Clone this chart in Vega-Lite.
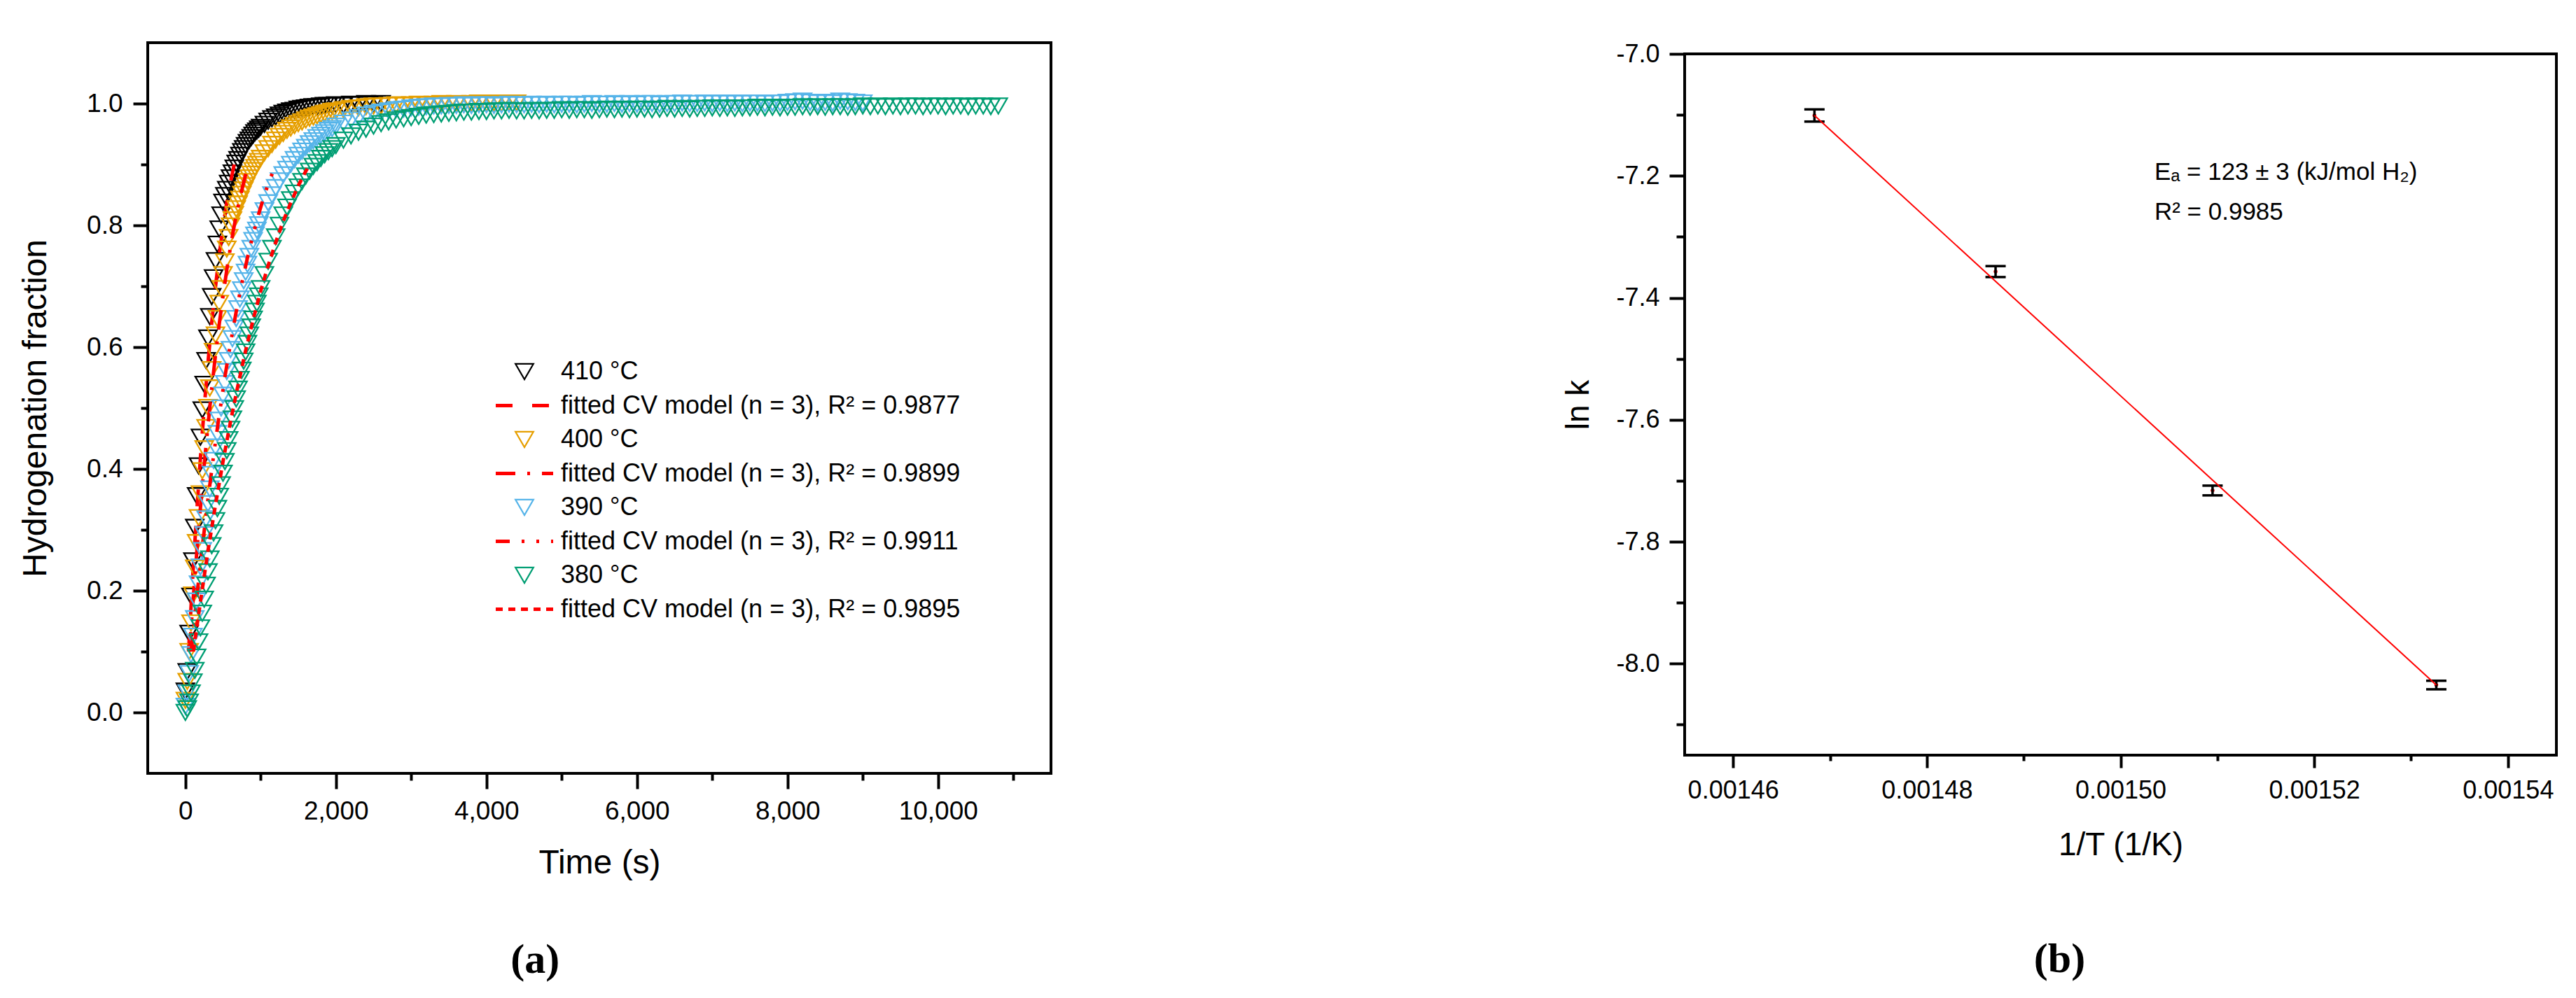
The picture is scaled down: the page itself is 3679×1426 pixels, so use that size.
{
  "$schema": "https://vega.github.io/schema/vega-lite/v6.json",
  "background": "white",
  "padding": {"left": 25, "top": 57, "right": 0, "bottom": 0},
  "spacing": 726,
  "datasets": {
    "meas": [
      {"t":0,"p410":0.035,"p400":0.02,"p390":0.01,"p380":0},
      {"t":25,"p410":0.067,"p400":0.051,"p390":0.032,"p380":0.006},
      {"t":50,"p410":0.13,"p400":0.1,"p390":0.064,"p380":0.017},
      {"t":75,"p410":0.191,"p400":0.147,"p390":0.095,"p380":0.032},
      {"t":100,"p410":0.249,"p400":0.193,"p390":0.125,"p380":0.05},
      {"t":125,"p410":0.304,"p400":0.237,"p390":0.154,"p380":0.069},
      {"t":150,"p410":0.356,"p400":0.279,"p390":0.183,"p380":0.091},
      {"t":175,"p410":0.405,"p400":0.32,"p390":0.211,"p380":0.116},
      {"t":200,"p410":0.452,"p400":0.359,"p390":0.239,"p380":0.139},
      {"t":225,"p410":0.497,"p400":0.397,"p390":0.266,"p380":0.163},
      {"t":250,"p410":0.539,"p400":0.433,"p390":0.292,"p380":0.186},
      {"t":275,"p410":0.578,"p400":0.468,"p390":0.318,"p380":0.209},
      {"t":300,"p410":0.615,"p400":0.501,"p390":0.343,"p380":0.231},
      {"t":325,"p410":0.65,"p400":0.533,"p390":0.367,"p380":0.252},
      {"t":350,"p410":0.683,"p400":0.563,"p390":0.391,"p380":0.274},
      {"t":375,"p410":0.714,"p400":0.593,"p390":0.414,"p380":0.295},
      {"t":400,"p410":0.742,"p400":0.62,"p390":0.436,"p380":0.315},
      {"t":425,"p410":0.769,"p400":0.647,"p390":0.458,"p380":0.335},
      {"t":450,"p410":0.794,"p400":0.672,"p390":0.48,"p380":0.355},
      {"t":475,"p410":0.817,"p400":0.696,"p390":0.5,"p380":0.374},
      {"t":500,"p410":0.838,"p400":0.719,"p390":0.521,"p380":0.393},
      {"t":525,"p410":0.849,"p400":0.74,"p390":0.54,"p380":0.412},
      {"t":550,"p410":0.859,"p400":0.761,"p390":0.56,"p380":0.43},
      {"t":575,"p410":0.869,"p400":0.78,"p390":0.578,"p380":0.448},
      {"t":600,"p410":0.878,"p400":0.799,"p390":0.596,"p380":0.465},
      {"t":625,"p410":0.886,"p400":0.809,"p390":0.614,"p380":0.482},
      {"t":650,"p410":0.894,"p400":0.818,"p390":0.631,"p380":0.499},
      {"t":675,"p410":0.902,"p400":0.827,"p390":0.647,"p380":0.515},
      {"t":700,"p410":0.908,"p400":0.835,"p390":0.663,"p380":0.531},
      {"t":725,"p410":0.915,"p400":0.843,"p390":0.679,"p380":0.547},
      {"t":750,"p410":0.921,"p400":0.851,"p390":0.694,"p380":0.562},
      {"t":775,"p410":0.926,"p400":0.858,"p390":0.709,"p380":0.577},
      {"t":800,"p410":0.931,"p400":0.865,"p390":0.723,"p380":0.592},
      {"t":825,"p410":0.936,"p400":0.872,"p390":0.736,"p380":0.606},
      {"t":850,"p410":0.94,"p400":0.878,"p390":0.749,"p380":0.62},
      {"t":875,"p410":0.944,"p400":0.884,"p390":0.762,"p380":0.633},
      {"t":900,"p410":0.948,"p400":0.89,"p390":0.775,"p380":0.646},
      {"t":925,"p410":0.952,"p400":0.895,"p390":0.784,"p380":0.659},
      {"t":950,"p410":0.955,"p400":0.9,"p390":0.792,"p380":0.672},
      {"t":975,"p410":0.958,"p400":0.905,"p390":0.801,"p380":0.684},
      {"t":1000,"p410":0.961,"p400":0.91,"p390":0.809,"p380":0.696},
      {"t":1050,"p410":0.966,"p400":0.919,"p390":0.824,"p380":0.719},
      {"t":1100,"p410":0.971,"p400":0.926,"p390":0.837,"p380":0.741},
      {"t":1150,"p410":0.975,"p400":0.933,"p390":0.85,"p380":0.762},
      {"t":1200,"p410":0.978,"p400":0.94,"p390":0.862,"p380":0.781},
      {"t":1250,"p410":0.981,"p400":0.946,"p390":0.873,"p380":0.8},
      {"t":1300,"p410":0.984,"p400":0.951,"p390":0.883,"p380":0.817},
      {"t":1350,"p410":0.986,"p400":0.956,"p390":0.892,"p380":0.83},
      {"t":1400,"p410":0.988,"p400":0.96,"p390":0.9,"p380":0.842},
      {"t":1450,"p410":0.989,"p400":0.964,"p390":0.908,"p380":0.853},
      {"t":1500,"p410":0.991,"p400":0.967,"p390":0.915,"p380":0.863},
      {"t":1550,"p410":0.992,"p400":0.97,"p390":0.922,"p380":0.872},
      {"t":1600,"p410":0.993,"p400":0.973,"p390":0.928,"p380":0.881},
      {"t":1650,"p410":0.994,"p400":0.976,"p390":0.934,"p380":0.889},
      {"t":1700,"p410":0.995,"p400":0.978,"p390":0.939,"p380":0.897},
      {"t":1750,"p410":0.995,"p400":0.98,"p390":0.944,"p380":0.903},
      {"t":1800,"p410":0.996,"p400":0.982,"p390":0.948,"p380":0.91},
      {"t":1850,"p410":0.997,"p400":0.984,"p390":0.952,"p380":0.916},
      {"t":1900,"p410":0.997,"p400":0.985,"p390":0.956,"p380":0.921},
      {"t":1950,"p410":0.997,"p400":0.987,"p390":0.959,"p380":0.926},
      {"t":2000,"p410":0.998,"p400":0.988,"p390":0.963,"p380":0.931},
      {"t":2100,"p410":0.997,"p400":0.99,"p390":0.968,"p380":0.94},
      {"t":2200,"p410":0.999,"p400":0.992,"p390":0.973,"p380":0.947},
      {"t":2300,"p410":0.998,"p400":0.993,"p390":0.977,"p380":0.953},
      {"t":2400,"p410":1,"p400":0.995,"p390":0.981,"p380":0.958},
      {"t":2500,"p410":0.999,"p400":0.996,"p390":0.984,"p380":0.963},
      {"t":2600,"p410":1,"p400":0.996,"p390":0.986,"p380":0.967},
      {"t":2700,"p400":0.997,"p390":0.988,"p380":0.97},
      {"t":2800,"p400":0.998,"p390":0.99,"p380":0.973},
      {"t":2900,"p400":0.997,"p390":0.991,"p380":0.975},
      {"t":3000,"p400":0.998,"p390":0.993,"p380":0.977},
      {"t":3100,"p400":0.999,"p390":0.994,"p380":0.979},
      {"t":3200,"p400":0.998,"p390":0.995,"p380":0.981},
      {"t":3300,"p400":0.999,"p390":0.996,"p380":0.982},
      {"t":3400,"p400":1,"p390":0.996,"p380":0.983},
      {"t":3500,"p400":0.999,"p390":0.997,"p380":0.984},
      {"t":3600,"p400":1,"p390":0.997,"p380":0.985},
      {"t":3700,"p400":0.999,"p390":0.998,"p380":0.986},
      {"t":3800,"p400":1,"p390":0.997,"p380":0.986},
      {"t":3900,"p400":1.001,"p390":0.998,"p380":0.987},
      {"t":4000,"p400":1,"p390":0.998,"p380":0.987},
      {"t":4100,"p400":1.001,"p390":0.997,"p380":0.988},
      {"t":4200,"p400":1,"p390":0.998,"p380":0.988},
      {"t":4300,"p400":1.001,"p390":0.999,"p380":0.989},
      {"t":4400,"p400":1.001,"p390":0.998,"p380":0.988},
      {"t":4500,"p390":0.998,"p380":0.988},
      {"t":4600,"p390":0.999,"p380":0.989},
      {"t":4700,"p390":0.998,"p380":0.988},
      {"t":4800,"p390":0.999,"p380":0.989},
      {"t":4900,"p390":0.998,"p380":0.989},
      {"t":5000,"p390":0.999,"p380":0.99},
      {"t":5100,"p390":0.999,"p380":0.989},
      {"t":5200,"p390":0.998,"p380":0.99},
      {"t":5300,"p390":0.999,"p380":0.99},
      {"t":5400,"p390":1,"p380":0.989},
      {"t":5500,"p390":0.999,"p380":0.99},
      {"t":5600,"p390":0.999,"p380":0.991},
      {"t":5700,"p390":1,"p380":0.99},
      {"t":5800,"p390":0.999,"p380":0.991},
      {"t":5900,"p390":1,"p380":0.99},
      {"t":6000,"p390":0.999,"p380":0.991},
      {"t":6100,"p390":1,"p380":0.991},
      {"t":6200,"p390":1,"p380":0.99},
      {"t":6300,"p390":0.999,"p380":0.991},
      {"t":6400,"p390":1,"p380":0.992},
      {"t":6500,"p390":1,"p380":0.991},
      {"t":6600,"p390":1.001,"p380":0.992},
      {"t":6700,"p390":1,"p380":0.991},
      {"t":6800,"p390":1,"p380":0.992},
      {"t":6900,"p390":1.001,"p380":0.992},
      {"t":7000,"p390":1,"p380":0.993},
      {"t":7100,"p390":1.001,"p380":0.992},
      {"t":7200,"p390":1,"p380":0.993},
      {"t":7300,"p390":1.001,"p380":0.992},
      {"t":7400,"p390":1,"p380":0.993},
      {"t":7500,"p390":1.001,"p380":0.993},
      {"t":7600,"p390":1.001,"p380":0.994},
      {"t":7700,"p390":1,"p380":0.993},
      {"t":7800,"p390":1.001,"p380":0.994},
      {"t":7900,"p390":1.001,"p380":0.993},
      {"t":8000,"p390":1.002,"p380":0.994},
      {"t":8100,"p390":1.003,"p380":0.994},
      {"t":8200,"p390":1.004,"p380":0.995},
      {"t":8300,"p390":1.002,"p380":0.994},
      {"t":8400,"p390":1.001,"p380":0.995},
      {"t":8500,"p390":1.002,"p380":0.994},
      {"t":8600,"p390":1.001,"p380":0.995},
      {"t":8700,"p390":1.004,"p380":0.995},
      {"t":8800,"p390":1.003,"p380":0.994},
      {"t":8900,"p390":1.002,"p380":0.995},
      {"t":9000,"p390":1.001,"p380":0.996},
      {"t":9100,"p380":0.995},
      {"t":9200,"p380":0.996},
      {"t":9300,"p380":0.995},
      {"t":9400,"p380":0.996},
      {"t":9500,"p380":0.995},
      {"t":9600,"p380":0.996},
      {"t":9700,"p380":0.996},
      {"t":9800,"p380":0.995},
      {"t":9900,"p380":0.996},
      {"t":10000,"p380":0.996},
      {"t":10100,"p380":0.995},
      {"t":10200,"p380":0.996},
      {"t":10300,"p380":0.996},
      {"t":10400,"p380":0.995},
      {"t":10500,"p380":0.996},
      {"t":10600,"p380":0.996},
      {"t":10700,"p380":0.995},
      {"t":10800,"p380":0.996}
    ],
    "fits": [
      {"s":"f410","t":42,"f":0.1},{"s":"f410","t":100,"f":0.228},{"s":"f410","t":150,"f":0.327},{"s":"f410","t":200,"f":0.418},{"s":"f410","t":250,"f":0.5},{"s":"f410","t":300,"f":0.574},{"s":"f410","t":350,"f":0.64},{"s":"f410","t":400,"f":0.699},{"s":"f410","t":450,"f":0.752},{"s":"f410","t":500,"f":0.797},{"s":"f410","t":550,"f":0.837},{"s":"f410","t":600,"f":0.871},{"s":"f410","t":649,"f":0.9},
      {"s":"f400","t":54,"f":0.1},{"s":"f400","t":100,"f":0.18},{"s":"f400","t":150,"f":0.261},{"s":"f400","t":200,"f":0.336},{"s":"f400","t":250,"f":0.406},{"s":"f400","t":300,"f":0.471},{"s":"f400","t":350,"f":0.532},{"s":"f400","t":400,"f":0.587},{"s":"f400","t":450,"f":0.638},{"s":"f400","t":500,"f":0.684},{"s":"f400","t":550,"f":0.727},{"s":"f400","t":600,"f":0.765},{"s":"f400","t":650,"f":0.8},{"s":"f400","t":700,"f":0.831},{"s":"f400","t":750,"f":0.858},{"s":"f400","t":800,"f":0.883},{"s":"f400","t":840,"f":0.9},
      {"s":"f390","t":77,"f":0.1},{"s":"f390","t":150,"f":0.188},{"s":"f390","t":225,"f":0.272},{"s":"f390","t":300,"f":0.35},{"s":"f390","t":375,"f":0.422},{"s":"f390","t":450,"f":0.489},{"s":"f390","t":525,"f":0.551},{"s":"f390","t":600,"f":0.607},{"s":"f390","t":675,"f":0.658},{"s":"f390","t":750,"f":0.705},{"s":"f390","t":825,"f":0.747},{"s":"f390","t":900,"f":0.785},{"s":"f390","t":975,"f":0.819},{"s":"f390","t":1050,"f":0.85},{"s":"f390","t":1125,"f":0.876},{"s":"f390","t":1202,"f":0.9},
      {"s":"f380","t":106,"f":0.1},{"s":"f380","t":200,"f":0.182},{"s":"f380","t":300,"f":0.265},{"s":"f380","t":400,"f":0.341},{"s":"f380","t":500,"f":0.412},{"s":"f380","t":600,"f":0.478},{"s":"f380","t":700,"f":0.538},{"s":"f380","t":800,"f":0.594},{"s":"f380","t":900,"f":0.645},{"s":"f380","t":1000,"f":0.692},{"s":"f380","t":1100,"f":0.734},{"s":"f380","t":1200,"f":0.772},{"s":"f380","t":1300,"f":0.807},{"s":"f380","t":1400,"f":0.837},{"s":"f380","t":1500,"f":0.865},{"s":"f380","t":1600,"f":0.889},{"s":"f380","t":1652,"f":0.9}
    ],
    "arr": [
      {"x":0.0014684,"y":-7.101,"lo":-7.111,"hi":-7.091},
      {"x":0.0014871,"y":-7.357,"lo":-7.366,"hi":-7.348},
      {"x":0.0015095,"y":-7.716,"lo":-7.724,"hi":-7.708},
      {"x":0.0015326,"y":-8.035,"lo":-8.042,"hi":-8.028}
    ],
    "arrfit": [
      {"x":0.0014684,"y":-7.101},
      {"x":0.0015326,"y":-8.035}
    ]
  },
  "resolve": {"scale": {"color": "independent", "strokeDash": "independent"}},
  "hconcat": [
    {
      "width": 1290,
      "height": 1044,
      "title": {"text": "(a)", "orient": "bottom", "anchor": "middle", "frame": "bounds", "font": "Liberation Serif", "fontSize": 60, "fontWeight": "bold", "color": "black", "offset": 86},
      "resolve": {"axis": {"x": "independent", "y": "independent"}},
      "layer": [
        {
          "data": {"name": "meas"},
          "transform": [{"fold": ["p410"], "as": ["s", "f"]}, {"filter": "isValid(datum.f)"}],
          "mark": {"type": "point", "shape": "triangle-down", "filled": false, "opacity": 1, "size": 650, "strokeWidth": 2.3},
          "encoding": {
            "x": {"field": "t", "type": "quantitative", "scale": {"domain": [-500, 11500], "nice": false, "zero": false},
                  "axis": {"orient": "bottom", "values": [0, 2000, 4000, 6000, 8000, 10000], "format": ",.0f", "title": "Time (s)", "titleFontSize": 48, "titlePadding": 32, "labelFontSize": 37, "labelPadding": 14, "tickSize": 22}},
            "y": {"field": "f", "type": "quantitative", "scale": {"domain": [-0.1, 1.1], "nice": false, "zero": false},
                  "axis": {"orient": "left", "values": [0, 0.2, 0.4, 0.6, 0.8, 1], "format": ".1f", "title": "Hydrogenation fraction", "titleFontSize": 48, "titlePadding": 48, "labelFontSize": 37, "labelPadding": 15, "tickSize": 21}},
            "color": {"field": "s", "type": "nominal",
                      "scale": {"domain": ["p410","p400","p390","p380"], "range": ["#000000","#e69f00","#56b4e9","#009e73"]},
                      "legend": {"orient": "none", "legendX": 520, "legendY": 452, "title": null, "direction": "vertical",
                                 "symbolType": "triangle-down", "symbolSize": 650, "symbolStrokeWidth": 2.3, "symbolFillColor": "transparent", "symbolOpacity": 1,
                                 "labelFont": "Liberation Sans", "labelFontSize": 36, "labelColor": "black", "labelLimit": 2000,
                                 "clipHeight": 36, "rowPadding": 61, "labelOffset": 34, "symbolOffset": 0, "padding": 0,
                                 "labelExpr": "datum.label == 'p410' ? '410 °C' : datum.label == 'p400' ? '400 °C' : datum.label == 'p390' ? '390 °C' : '380 °C'"}}
          }
        },
        {
          "data": {"name": "fits"},
          "transform": [{"filter": "datum.s == 'f410'"}],
          "mark": {"type": "line", "color": "#ff0000", "strokeWidth": 5},
          "encoding": {
            "x": {"field": "t", "type": "quantitative", "axis": {"orient": "bottom", "values": [1000, 3000, 5000, 7000, 9000, 11000], "labels": false, "title": null, "tickSize": 10}},
            "y": {"field": "f", "type": "quantitative", "axis": {"orient": "left", "values": [0.1, 0.3, 0.5, 0.7, 0.9], "labels": false, "title": null, "tickSize": 10}},
            "strokeDash": {"field": "s", "type": "nominal",
                           "scale": {"domain": ["f410","f400","f390","f380"], "range": [[24,28],[28,17,4,17],[20,17,4,17,4,17],[10,8]]},
                           "legend": {"orient": "none", "legendX": 494.5, "legendY": 500.5, "title": null, "direction": "vertical",
                                      "symbolType": "stroke", "symbolSize": 6724, "symbolStrokeWidth": 5, "symbolStrokeColor": "#ff0000", "symbolOpacity": 1,
                                      "labelFont": "Liberation Sans", "labelFontSize": 36, "labelColor": "black", "labelLimit": 2000,
                                      "clipHeight": 36, "rowPadding": 61, "labelOffset": 8.5, "symbolOffset": 0, "padding": 0,
                                      "labelExpr": "datum.label == 'f410' ? 'fitted CV model (n = 3), R² = 0.9877' : datum.label == 'f400' ? 'fitted CV model (n = 3), R² = 0.9899' : datum.label == 'f390' ? 'fitted CV model (n = 3), R² = 0.9911' : 'fitted CV model (n = 3), R² = 0.9895'"}}
          }
        },
        {
          "data": {"name": "meas"},
          "transform": [{"fold": ["p400"], "as": ["s", "f"]}, {"filter": "isValid(datum.f)"}],
          "mark": {"type": "point", "shape": "triangle-down", "filled": false, "opacity": 1, "size": 650, "strokeWidth": 2.3},
          "encoding": {
            "x": {"field": "t", "type": "quantitative", "axis": null},
            "y": {"field": "f", "type": "quantitative", "axis": null},
            "color": {"field": "s", "type": "nominal"}
          }
        },
        {
          "data": {"name": "fits"},
          "transform": [{"filter": "datum.s == 'f400'"}],
          "mark": {"type": "line", "color": "#ff0000", "strokeWidth": 5},
          "encoding": {
            "x": {"field": "t", "type": "quantitative", "axis": null},
            "y": {"field": "f", "type": "quantitative", "axis": null},
            "strokeDash": {"field": "s", "type": "nominal"}
          }
        },
        {
          "data": {"name": "meas"},
          "transform": [{"fold": ["p390"], "as": ["s", "f"]}, {"filter": "isValid(datum.f)"}],
          "mark": {"type": "point", "shape": "triangle-down", "filled": false, "opacity": 1, "size": 650, "strokeWidth": 2.3},
          "encoding": {
            "x": {"field": "t", "type": "quantitative", "axis": null},
            "y": {"field": "f", "type": "quantitative", "axis": null},
            "color": {"field": "s", "type": "nominal"}
          }
        },
        {
          "data": {"name": "fits"},
          "transform": [{"filter": "datum.s == 'f390'"}],
          "mark": {"type": "line", "color": "#ff0000", "strokeWidth": 5},
          "encoding": {
            "x": {"field": "t", "type": "quantitative", "axis": null},
            "y": {"field": "f", "type": "quantitative", "axis": null},
            "strokeDash": {"field": "s", "type": "nominal"}
          }
        },
        {
          "data": {"name": "meas"},
          "transform": [{"fold": ["p380"], "as": ["s", "f"]}, {"filter": "isValid(datum.f)"}],
          "mark": {"type": "point", "shape": "triangle-down", "filled": false, "opacity": 1, "size": 650, "strokeWidth": 2.3},
          "encoding": {
            "x": {"field": "t", "type": "quantitative", "axis": null},
            "y": {"field": "f", "type": "quantitative", "axis": null},
            "color": {"field": "s", "type": "nominal"}
          }
        },
        {
          "data": {"name": "fits"},
          "transform": [{"filter": "datum.s == 'f380'"}],
          "mark": {"type": "line", "color": "#ff0000", "strokeWidth": 5},
          "encoding": {
            "x": {"field": "t", "type": "quantitative", "axis": null},
            "y": {"field": "f", "type": "quantitative", "axis": null},
            "strokeDash": {"field": "s", "type": "nominal"}
          }
        }
      ]
    },
    {
      "spacing": -5,
      "vconcat": [
        {
          "width": 1245,
          "height": 1,
          "view": {"stroke": null},
          "data": {"values": []},
          "mark": "point"
        },
        {
          "width": 1245,
          "height": 1002,
          "title": {"text": "(b)", "orient": "bottom", "anchor": "middle", "frame": "bounds", "font": "Liberation Serif", "fontSize": 60, "fontWeight": "bold", "color": "black", "offset": 112},
          "resolve": {"axis": {"x": "independent", "y": "independent"}},
          "layer": [
            {
              "data": {"name": "arr"},
              "mark": {"type": "point", "filled": true, "shape": "circle", "size": 30, "color": "#e00000", "opacity": 1},
              "encoding": {
                "x": {"field": "x", "type": "quantitative", "scale": {"domain": [0.001455, 0.001545], "nice": false, "zero": false},
                      "axis": {"orient": "bottom", "values": [0.00146, 0.00148, 0.0015, 0.00152, 0.00154], "format": ".5f", "title": "1/T (1/K)", "titleFontSize": 46, "titlePadding": 38, "labelFontSize": 36, "labelPadding": 15, "tickSize": 18}},
                "y": {"field": "y", "type": "quantitative", "scale": {"domain": [-8.15, -7.0], "nice": false, "zero": false},
                      "axis": {"orient": "left", "values": [-8, -7.8, -7.6, -7.4, -7.2, -7], "labelExpr": "replace(format(datum.value, '.1f'), '−', '-')", "title": "ln k", "titleFontSize": 46, "titlePadding": 29, "labelFontSize": 36, "labelPadding": 14, "tickSize": 22}}
              }
            },
            {
              "data": {"name": "arr"},
              "mark": {"type": "rule", "color": "black", "strokeWidth": 3.5},
              "encoding": {
                "x": {"field": "x", "type": "quantitative", "axis": {"orient": "bottom", "values": [0.00147, 0.00149, 0.00151, 0.00153], "labels": false, "title": null, "tickSize": 8}},
                "y": {"field": "lo", "type": "quantitative", "axis": {"orient": "left", "values": [-8.1, -7.9, -7.7, -7.5, -7.3, -7.1], "labels": false, "title": null, "tickSize": 12}},
                "y2": {"field": "hi"}
              }
            },
            {
              "data": {"name": "arr"},
              "mark": {"type": "tick", "orient": "horizontal", "color": "black", "size": 29, "thickness": 3.5, "opacity": 1},
              "encoding": {
                "x": {"field": "x", "type": "quantitative", "axis": null},
                "y": {"field": "lo", "type": "quantitative", "axis": null}
              }
            },
            {
              "data": {"name": "arr"},
              "mark": {"type": "tick", "orient": "horizontal", "color": "black", "size": 29, "thickness": 3.5, "opacity": 1},
              "encoding": {
                "x": {"field": "x", "type": "quantitative", "axis": null},
                "y": {"field": "hi", "type": "quantitative", "axis": null}
              }
            },
            {
              "data": {"name": "arrfit"},
              "mark": {"type": "line", "color": "#ff0000", "strokeWidth": 2},
              "encoding": {
                "x": {"field": "x", "type": "quantitative", "axis": null},
                "y": {"field": "y", "type": "quantitative", "axis": null}
              }
            },
            {
              "data": {"values": [{"label": "Eₐ = 123 ± 3 (kJ/mol H₂)"}]},
              "mark": {"type": "text", "align": "left", "baseline": "alphabetic", "font": "Liberation Sans", "fontSize": 35, "color": "black"},
              "encoding": {
                "x": {"datum": 0.0015035, "type": "quantitative", "axis": null},
                "y": {"datum": -7.207, "type": "quantitative", "axis": null},
                "text": {"field": "label"}
              }
            },
            {
              "data": {"values": [{"label": "R² = 0.9985"}]},
              "mark": {"type": "text", "align": "left", "baseline": "alphabetic", "font": "Liberation Sans", "fontSize": 35, "color": "black"},
              "encoding": {
                "x": {"datum": 0.0015035, "type": "quantitative", "axis": null},
                "y": {"datum": -7.2724, "type": "quantitative", "axis": null},
                "text": {"field": "label"}
              }
            }
          ]
        }
      ]
    }
  ],
  "config": {
    "font": "Liberation Sans",
    "view": {"stroke": "black", "strokeWidth": 4},
    "axis": {"domain": false, "grid": false, "tickColor": "black", "tickWidth": 4, "labelColor": "black", "titleColor": "black", "labelFont": "Liberation Sans", "titleFont": "Liberation Sans", "titleFontWeight": "normal", "labelFlush": false, "labelOverlap": false}
  }
}
